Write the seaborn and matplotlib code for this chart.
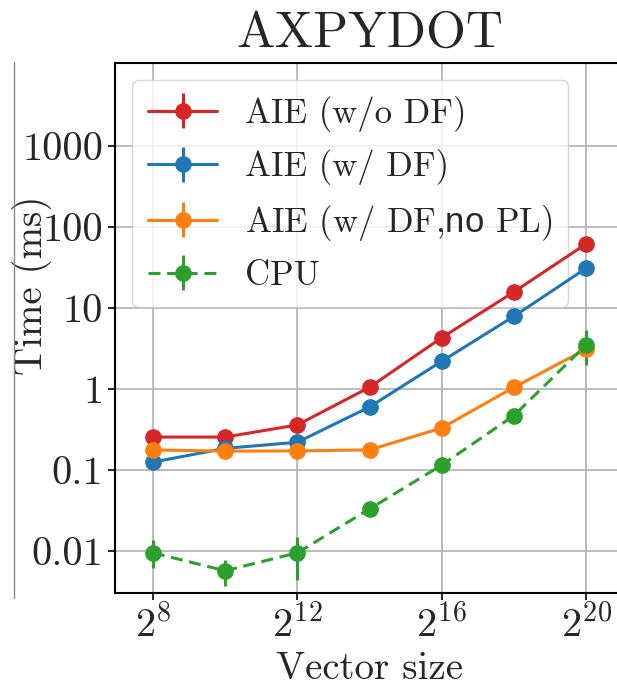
import matplotlib
matplotlib.use("Agg")
import matplotlib.pyplot as plt
from matplotlib.lines import Line2D
import numpy as np
import seaborn as sns

# data
sizes = [256, 1024, 4096, 16384, 65536, 262144, 1048576]
aie_nodf = [0.255, 0.255, 0.36, 1.05, 4.3, 15.8, 62.0]
aie_df = [0.125, 0.185, 0.22, 0.60, 2.2, 7.9, 31.0]
aie_df_nopl = [0.177, 0.171, 0.172, 0.177, 0.33, 1.05, 3.1]
cpu = [0.0095, 0.0057, 0.0095, 0.033, 0.115, 0.47, 3.5]
cpu_lo = [0.0062, 0.0037, 0.0044, 0.031, 0.11, 0.45, 2.0]
cpu_hi = [0.0135, 0.0078, 0.0148, 0.035, 0.12, 0.49, 5.3]

labels = ["AIE (w/o DF)", "AIE (w/ DF)", r"AIE (w/ DF,$\mathsf{no}$ PL)", "CPU"]
yticks = [0.01, 0.1, 1, 10, 100, 1000]
ytick_labels = ["0.01", "0.1", "1", "10", "100", "1000"]
xticks = [2**8, 2**12, 2**16, 2**20]
xtick_labels = [r"$2^{8}$", r"$2^{12}$", r"$2^{16}$", r"$2^{20}$"]

sns.set_style("whitegrid", {
    "axes.edgecolor": "black",
    "grid.color": "#b0b0b0",
    "xtick.bottom": True,
    "ytick.left": True,
})
plt.rcParams["font.family"] = ["cmr10", "DejaVu Serif"]
plt.rcParams["mathtext.fontset"] = "custom"
plt.rcParams["mathtext.rm"] = "cmr10"
plt.rcParams["mathtext.it"] = "cmmi10"
plt.rcParams["mathtext.bf"] = "cmb10"
plt.rcParams["mathtext.sf"] = "Liberation Sans"
plt.rcParams["axes.formatter.use_mathtext"] = True

colors = sns.color_palette("tab10")
red, blue, orange, green = colors[3], colors[0], colors[1], colors[2]

fig = plt.figure(figsize=(6.17, 6.88), dpi=100)
ax = fig.add_axes([0.1864, 0.1381, 0.825, 0.7703])

kw = dict(marker="o", markersize=11, linewidth=2.2, elinewidth=2.2, capsize=0)
zero = [0] * len(sizes)
ax.errorbar(sizes, aie_nodf, yerr=[zero, zero], color=red, linestyle="-", label=labels[0], **kw)
ax.errorbar(sizes, aie_df, yerr=[zero, zero], color=blue, linestyle="-", label=labels[1], **kw)
ax.errorbar(sizes, aie_df_nopl, yerr=[zero, zero], color=orange, linestyle="-", label=labels[2], **kw)
cpu_err = [np.array(cpu) - np.array(cpu_lo), np.array(cpu_hi) - np.array(cpu)]
eb = ax.errorbar(sizes, cpu, yerr=cpu_err, color=green, linestyle="--", label=labels[3], **kw)
eb.lines[0].set_dashes((3.9, 2.2))

ax.set_xscale("log", base=2)
ax.set_yscale("log")
ax.set_xlim(2**6.95, 2**21.05)
ax.set_ylim(0.00303, 10590)
ax.set_xticks(xticks)
ax.set_xticklabels(xtick_labels)
ax.set_yticks(yticks)
ax.set_yticklabels(ytick_labels)
ax.minorticks_off()
ax.tick_params(axis="both", labelsize=29, length=5, width=1.2, color="black")
for s in ax.spines.values():
    s.set_linewidth(1.5)
    s.set_color("black")
ax.grid(True, color="#b0b0b0", linewidth=1.2)

ax.set_title("AXPYDOT", fontsize=37, pad=12)
ax.set_xlabel("Vector size", fontsize=28)
ax.set_ylabel("Time (ms)", fontsize=28)
ax.yaxis.set_label_coords(-0.124, 0.58)

leg = ax.legend(loc="upper left", fontsize=25, labelspacing=0.5, framealpha=0.8,
                edgecolor="#cccccc", borderpad=0.45)
leg.set_zorder(1.5)  # lines stay on top of the legend box

# stray frame edge of a neighbouring panel on the left
fig.add_artist(Line2D([14 / 617, 14 / 617], [1 - 62 / 688, 1 - 598 / 688],
                      color="#888888", linewidth=1))

fig.savefig("out.png", dpi=100)
